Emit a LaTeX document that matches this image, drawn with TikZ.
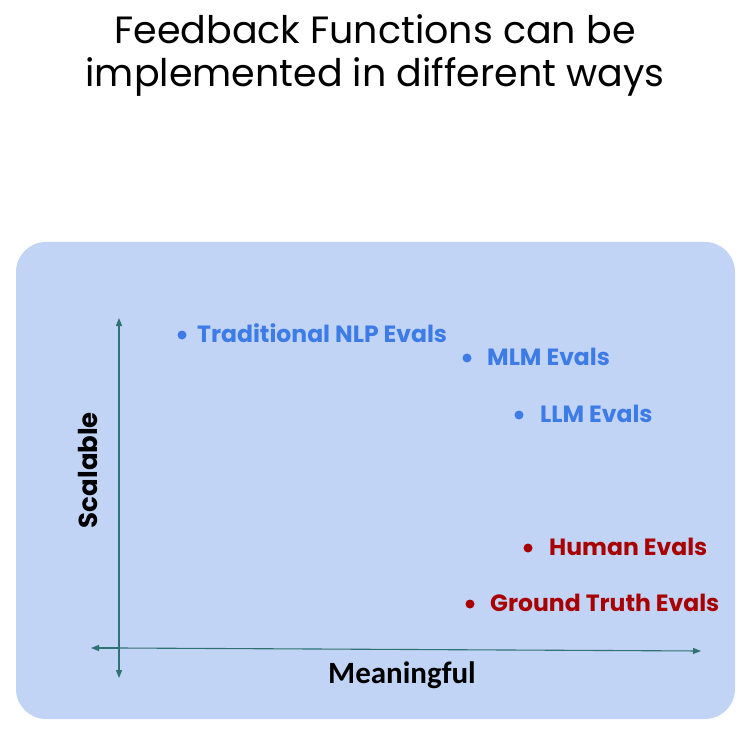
\documentclass[tikz,border=0pt]{standalone}
\usepackage{fontspec}
\setmainfont{Poppins}
\newfontfamily\axisfont{Carlito}
\definecolor{panelblue}{HTML}{C2D4F5}
\definecolor{axisteal}{HTML}{2F7272}
\definecolor{evalblue}{HTML}{3D7BE6}
\definecolor{evalred}{HTML}{A80000}
\usetikzlibrary{arrows.meta}
\begin{document}
\begin{tikzpicture}[x=1pt,y=-1pt,
  axisline/.style={draw=axisteal,line width=1.1pt,-{Triangle[length=8pt,width=6pt]}},
  evallabel/.style={anchor=west,inner sep=0pt,font=\fontsize{23.5}{26}\selectfont\bfseries},
  dot/.style={circle,inner sep=0pt,minimum size=9pt},
  axislabel/.style={font=\axisfont\fontsize{31}{34}\selectfont\bfseries,inner sep=0pt}]
\useasboundingbox (0,0) rectangle (747,738);
\fill[white] (0,0) rectangle (747,738);
% title
\node[font=\fontsize{38}{43}\selectfont,align=center] (title) at (375,55)
  {Feedback Functions can be\\implemented in different ways};
% panel
\fill[panelblue,rounded corners=30pt] (16,242) rectangle (735,719);
% axes
\coordinate (origin) at (119,648);
\coordinate (ytop) at (119,318);
\coordinate (ybot) at (119,678);
\coordinate (xleft) at (91,648);
\coordinate (xright) at (701,651);
\draw[axisline] (origin) -- (ytop);
\draw[axisline] (origin) -- (ybot);
\draw[axisline] (origin) -- (xleft);
\draw[axisline] (origin) -- (xright);
\node[axislabel] (xlab) at (402,675) {Meaningful};
\node[font=\fontsize{26}{30}\selectfont\bfseries,inner sep=0pt,rotate=90] (ylab) at (88,470) {Scalable};
% evaluation methods
\node[dot,fill=evalblue] (d1) at (182,335) {};
\node[evallabel,text=evalblue] (l1) at (197,333) {Traditional NLP Evals};
\node[dot,fill=evalblue] (d2) at (467,358) {};
\node[evallabel,text=evalblue] (l2) at (487,357) {MLM Evals};
\node[dot,fill=evalblue] (d3) at (519,415) {};
\node[evallabel,text=evalblue] (l3) at (540,414) {LLM Evals};
\node[dot,fill=evalred] (d4) at (528,548) {};
\node[evallabel,text=evalred] (l4) at (549,547) {Human Evals};
\node[dot,fill=evalred] (d5) at (470,604) {};
\node[evallabel,text=evalred] (l5) at (490,603) {Ground Truth Evals};
\end{tikzpicture}
\end{document}
